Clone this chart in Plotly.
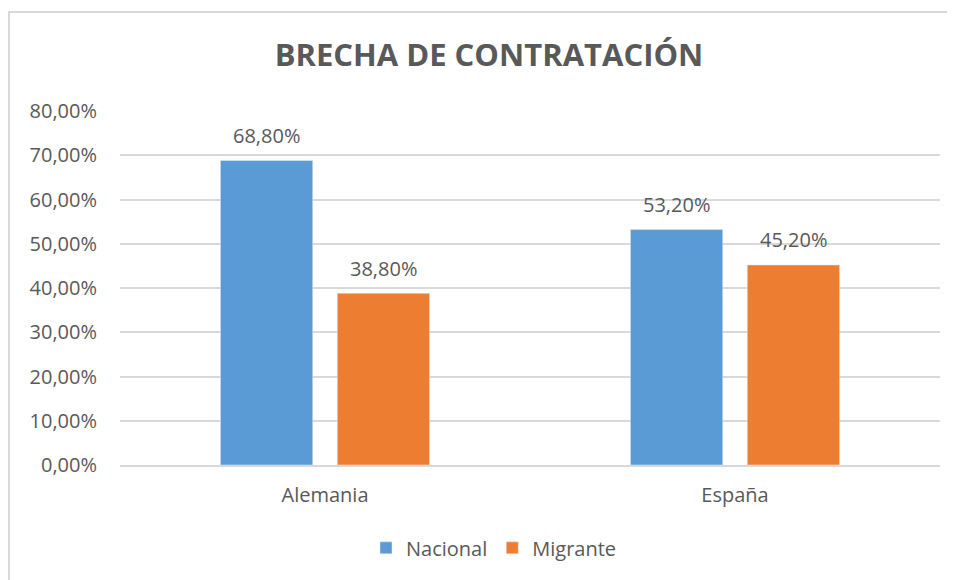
import plotly.graph_objects as go

paises = ['Alemania', 'España']
nacional = [0.688, 0.532]
migrante = [0.388, 0.452]

azul = '#5B9BD5'
naranja = '#ED7D31'
gris_texto = '#595959'
fuente = 'Open Sans'

fig = go.Figure()

fig.add_trace(go.Bar(
    x= paises,
    y= nacional,
    name= 'Nacional',
    marker= dict(color= azul),
    hovertemplate= '%{x}: %{y:.2%}<extra>Nacional</extra>'
))

fig.add_trace(go.Bar(
    x= paises,
    y= migrante,
    name= 'Migrante',
    marker= dict(color= naranja),
    hovertemplate= '%{x}: %{y:.2%}<extra>Migrante</extra>'
))

# etiquetas de datos encima de cada barra
for serie, desplaz in [(nacional, -58.5), (migrante, 58.5)]:
    for pais, valor in zip(paises, serie):
        fig.add_annotation(
            x= pais, y= valor,
            text= f'{valor*100:.2f}%'.replace('.', ','),
            showarrow= False,
            xshift= desplaz,
            yshift= 25,
            yanchor= 'middle',
            font= dict(size=20, color=gris_texto, family=fuente)
        )

# la página tiene 8 px de margen, se compensa
fig.update_layout(
    width= 947,
    height= 572,
    margin= dict(l=112, r=15, t=103, b=115),
    paper_bgcolor= 'white',
    plot_bgcolor= 'white',
    separators= ',.',
    font= dict(family=fuente, color=gris_texto, size=20),
    title= dict(
        text= '<b>BRECHA DE CONTRATACIÓN</b>',
        x= 481/947,
        xanchor= 'center',
        y= 1 - 47/572,
        yanchor= 'middle',
        font= dict(size=31, color=gris_texto, family=fuente)
    ),
    barmode= 'group',
    bargap= 0.43,
    bargroupgap= 0.21,
    legend= dict(
        orientation= 'h',
        x= 0.30,
        xanchor= 'left',
        y= -0.234,
        yanchor= 'middle',
        font= dict(size=20, color=gris_texto, family=fuente),
    ),
)

fig.update_yaxes(
    range= [0, 0.8],
    dtick= 0.1,
    tickformat= '.2%',
    showgrid= True,
    gridcolor= '#D9D9D9',
    gridwidth= 1.5,
    zeroline= False,
    showline= False,
    ticks= '',
    ticklabelstandoff= 22,
    tickfont= dict(size=20, color=gris_texto)
)

fig.update_xaxes(
    showline= True,
    linecolor= '#D9D9D9',
    linewidth= 1.5,
    ticks= '',
    ticklabelstandoff= 11,
    tickfont= dict(size=20, color=gris_texto)
)

# marco del gráfico
fig.add_shape(
    type= 'rect',
    xref= 'paper', yref= 'paper',
    x0= (1 - 112) / 820, x1= 1.2,
    y0= -0.5, y1= (457 - 4) / 354,
    line= dict(color='#D9D9D9', width=2),
    fillcolor= 'rgba(0,0,0,0)',
    layer= 'below'
)

fig.write_html('out.html')
